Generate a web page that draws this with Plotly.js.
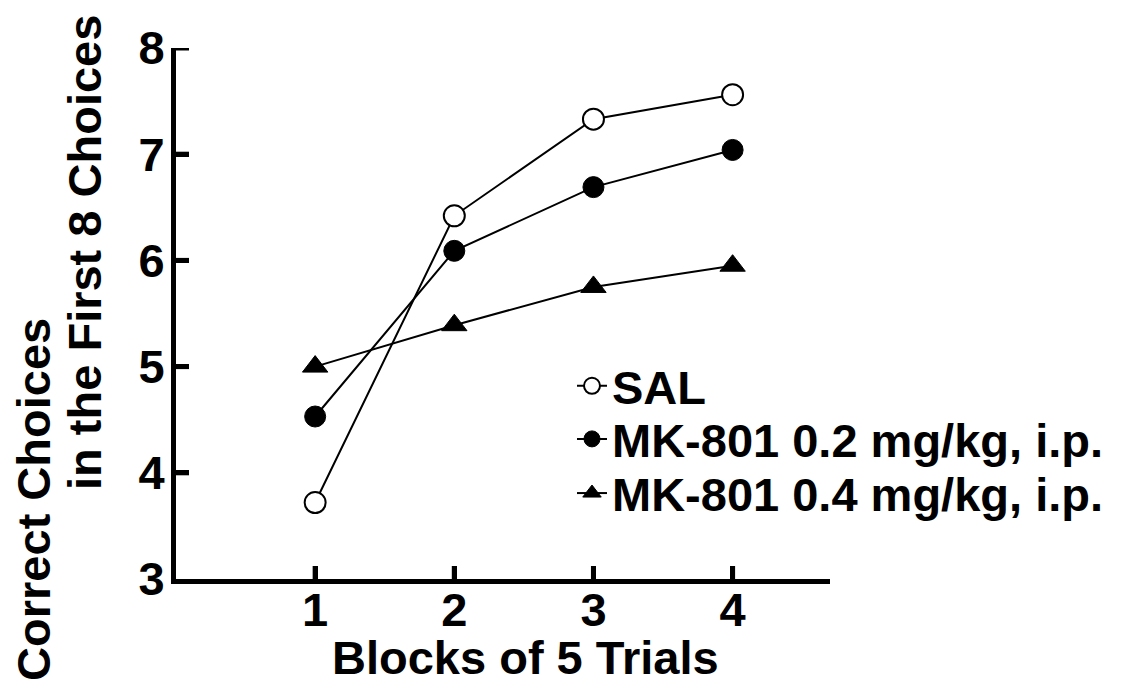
<!DOCTYPE html>
<html><head><meta charset="utf-8">
<script src="https://cdn.plot.ly/plotly-3.0.1.min.js"></script>
<style>html,body{margin:0;padding:0;background:#fff}</style>
</head><body>
<div id="chart" style="width:1125px;height:692px"></div>
<script>
const blocks = [1, 2, 3, 4];
const salValues = [3.72, 6.42, 7.33, 7.56];
const mk02Values = [4.53, 6.09, 6.69, 7.04];
const mk04Values = [5.0, 5.39, 5.75, 5.95];
const seriesNames = ["SAL", "MK-801 0.2 mg/kg, i.p.", "MK-801 0.4 mg/kg, i.p."];
const yTicks = [3, 4, 5, 6, 7, 8];
const xTitle = "Blocks of 5 Trials";
const yTitleLines = ["Correct Choices", "in the First 8 Choices"];

const FONT = "Liberation Sans, Arial, Helvetica, sans-serif";
const FS = 47;
function bold() { return {family: FONT, size: FS, weight: "bold", color: "#000"}; }
function lineStyle() { return {color: "#000", width: 2}; }

const traces = [
  {x: blocks, y: salValues, name: seriesNames[0], legend: "legend", mode: "lines+markers", line: lineStyle(),
   marker: {symbol: "circle", size: 21, color: "#fff", line: {color: "#000", width: 2}}},
  {x: blocks, y: mk02Values, name: seriesNames[1], legend: "legend2", mode: "lines+markers", line: lineStyle(),
   marker: {symbol: "circle", size: 21, color: "#000", line: {color: "#000", width: 1}}},
  {x: blocks, y: mk04Values, name: seriesNames[2], legend: "legend3", mode: "lines+markers", line: lineStyle(),
   marker: {symbol: "triangle-up", size: 22, color: "#000", line: {color: "#000", width: 1}}}
];

function legendAt(y) {
  return {x: 0.6055, y: y, xanchor: "left", yanchor: "middle", font: bold(),
    bgcolor: "rgba(0,0,0,0)", itemwidth: 30};
}

// Inward tick marks drawn as pixel-sized shapes anchored at each tick value
const tickShapes = [];
yTicks.slice(1).forEach(v => tickShapes.push({type: "line", layer: "above",
  xref: "paper", yref: "y", xsizemode: "pixel", xanchor: 0, x0: 0, x1: 13, y0: v, y1: v,
  line: {color: "#000", width: 5}}));
blocks.forEach(v => tickShapes.push({type: "line", layer: "above",
  xref: "x", yref: "paper", ysizemode: "pixel", yanchor: 0, y0: 0, y1: 13, x0: v, x1: v,
  line: {color: "#000", width: 5}}));

const layout = {
  width: 1125, height: 692,
  margin: {l: 176, r: 295, t: 48, b: 113},
  showlegend: true,
  legend: legendAt(0.363), legend2: legendAt(0.263), legend3: legendAt(0.161),
  xaxis: {range: [0, 4.7], tickvals: blocks, ticks: "inside", ticklen: 13, tickwidth: 5, tickcolor: "#000",
    showline: true, linewidth: 5, linecolor: "#000", showgrid: false, zeroline: false,
    tickfont: bold(), ticklabelstandoff: -14},
  yaxis: {range: [3, 8], tickvals: yTicks, ticks: "inside", ticklen: 13, tickwidth: 5, tickcolor: "#000",
    showline: true, linewidth: 5, linecolor: "#000", showgrid: false, zeroline: false,
    tickfont: bold(), ticklabelstandoff: -3},
  shapes: tickShapes,
  annotations: [
    {text: xTitle, xref: "paper", yref: "paper", x: 0.534, y: -0.147,
     xanchor: "center", yanchor: "middle", showarrow: false, font: bold()},
    {text: yTitleLines[0], xref: "paper", yref: "paper", x: 0, y: 0.149, xshift: -142,
     xanchor: "center", yanchor: "middle", textangle: -90, showarrow: false, font: bold()},
    {text: yTitleLines[1], xref: "paper", yref: "paper", x: 0, y: 0.614, xshift: -91,
     xanchor: "center", yanchor: "middle", textangle: -90, showarrow: false, font: bold()}
  ]
};

Plotly.newPlot("chart", traces, layout, {displayModeBar: false, staticPlot: true});
</script>
</body></html>
